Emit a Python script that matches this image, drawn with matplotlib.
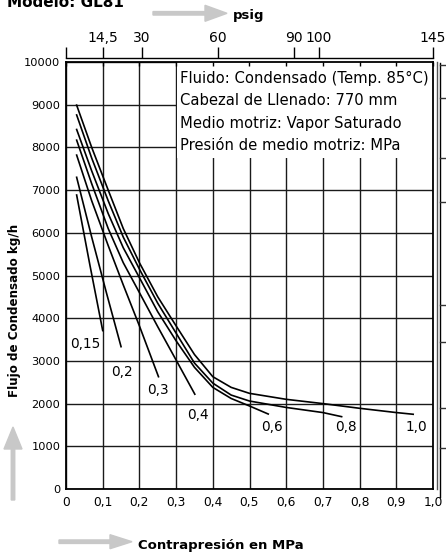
import matplotlib
matplotlib.use('Agg')
import matplotlib.pyplot as plt
from matplotlib import font_manager
from matplotlib.patches import Rectangle, FancyArrow
from matplotlib.lines import Line2D
from matplotlib.transforms import IdentityTransform

# pick a narrow face for the numbers if one is installed
installed = {f.name for f in font_manager.fontManager.ttflist}
narrow = 'DejaVu Sans'
num_size = 8.8
for name, size in [('DejaVu Sans Condensed', 9.5), ('Liberation Sans Narrow', 10.5)]:
    if name in installed:
        narrow = name
        num_size = size
        break

# curves: back pressure (MPa) vs condensate flow (kg/h), one per motive pressure
curve_names = ['0,15', '0,2', '0,3', '0,4', '0,6', '0,8', '1,0']
back_015 = [0.029, 0.065, 0.100]
flow_015 = [6885, 5250, 3710]
back_02 = [0.029, 0.07, 0.11, 0.150]
flow_02 = [7300, 5900, 4600, 3333]
back_03 = [0.029, 0.07, 0.115, 0.156, 0.2, 0.252]
flow_03 = [7820, 6750, 5700, 4780, 3820, 2630]
back_04 = [0.029, 0.07, 0.115, 0.156, 0.2, 0.25, 0.3, 0.351]
flow_04 = [8170, 7150, 6100, 5300, 4600, 3800, 3020, 2220]
back_06 = [0.029, 0.07, 0.115, 0.156, 0.2, 0.25, 0.3, 0.35, 0.4, 0.45, 0.5, 0.551]
flow_06 = [8420, 7450, 6450, 5650, 4950, 4150, 3470, 2850, 2380, 2120, 1944, 1756]
back_08 = [0.029, 0.07, 0.115, 0.156, 0.2, 0.25, 0.3, 0.35, 0.4, 0.45, 0.5, 0.6, 0.7, 0.751]
flow_08 = [8760, 7750, 6750, 5900, 5150, 4350, 3650, 2950, 2480, 2200, 2060, 1910, 1790, 1694]
back_10 = [0.029, 0.07, 0.115, 0.156, 0.2, 0.25, 0.3, 0.35, 0.4, 0.45, 0.5, 0.6, 0.7, 0.8, 0.9, 0.946]
flow_10 = [8990, 8000, 7000, 6100, 5300, 4500, 3820, 3150, 2630, 2380, 2240, 2100, 2000, 1890, 1790, 1750]

curves = [(back_015, flow_015), (back_02, flow_02), (back_03, flow_03), (back_04, flow_04),
          (back_06, flow_06), (back_08, flow_08), (back_10, flow_10)]

label_x = [0.052, 0.153, 0.25, 0.359, 0.56, 0.762, 0.955]
label_y = [3400, 2750, 2320, 1733, 1452, 1452, 1452]

x_ticks = [0, 0.1, 0.2, 0.3, 0.4, 0.5, 0.6, 0.7, 0.8, 0.9, 1.0]
x_tick_labels = ['0', '0,1', '0,2', '0,3', '0,4', '0,5', '0,6', '0,7', '0,8', '0,9', '1,0']
y_ticks = [0, 1000, 2000, 3000, 4000, 5000, 6000, 7000, 8000, 9000, 10000]
psig_ticks = [0, 14.5, 30, 60, 90, 100, 145]
psig_labels = ['', '14,5', '30', '60', '90', '100', '145']

info_lines = ['Fluido: Condensado (Temp. 85°C)',
              'Cabezal de Llenado: 770 mm',
              'Medio motriz: Vapor Saturado',
              'Presión de medio motriz: MPa']

# ticks of the next panel that is cut off at the right edge (pixels from top)
neighbour_ticks = [65, 98, 158, 202, 305, 342, 408, 448]

W, H = 446, 556
fig = plt.figure(figsize=(W / 100, H / 100), dpi=100)
ax = fig.add_axes([66 / W, 1 - 489 / H, 367 / W, 427 / H])
ax.set_xlim(0, 1.0)
ax.set_ylim(0, 10000)

ax.set_axisbelow(True)
ax.grid(True, color='#1a1a1a', linewidth=1.0)
ax.set_xticks(x_ticks)
ax.set_xticklabels(x_tick_labels, family=narrow, fontsize=num_size)
ax.set_yticks(y_ticks)
ax.set_yticklabels([str(v) for v in y_ticks], family=narrow, fontsize=num_size - 0.6)
ax.tick_params(axis='x', length=0, pad=5)
ax.tick_params(axis='y', length=0, pad=4)
for sp in ax.spines.values():
    sp.set_linewidth(1.3)

# white panel behind the info text
ax.add_patch(Rectangle((0.3015, 7750), 0.7, 2250, facecolor='white', edgecolor='none', zorder=1))
for i, line in enumerate(info_lines):
    ax.text(0.311, 0.9625 - i * 0.0527, line, transform=ax.transAxes, fontsize=10.6,
            va='center', ha='left', zorder=3)

# small inward ticks on the top frame
top_in = ax.secondary_xaxis('top')
top_in.set_xticks(x_ticks)
top_in.tick_params(direction='in', length=3, width=1, labeltop=False)
top_in.spines['top'].set_visible(False)
top_in.set_zorder(3)

# psig scale above
psig = ax.secondary_xaxis('top', functions=(lambda m: m * 145.0, lambda p: p / 145.0))
psig.set_xticks(psig_ticks)
psig.set_xticklabels(psig_labels, family=narrow, fontsize=num_size + 0.6)
psig.spines['top'].set_position(('outward', 3))
psig.spines['top'].set_linewidth(1.0)
psig.tick_params(direction='out', length=8, width=1, pad=1)

for (bx, fy) in curves:
    ax.plot(bx, fy, color='black', linewidth=1.2, zorder=4)
for name, lx, ly in zip(curve_names, label_x, label_y):
    ax.text(lx, ly, name, family=narrow, fontsize=num_size + 1.0, ha='center', va='center', zorder=4)

# titles and arrows
fig.text(7 / W, 1 - 7.3 / H, 'Modelo: GL81', fontsize=11, fontweight='bold', va='baseline', ha='left')
fig.text(249 / W, 1 - 16 / H, 'psig', fontsize=9.5, fontweight='bold', va='center', ha='center')
fig.text(221 / W, 1 - 545 / H, 'Contrapresión en MPa', fontsize=9.5, fontweight='bold',
         va='center', ha='center')
fig.text(15 / W, 1 - 310 / H, 'Flujo de Condensado kg/h', fontsize=8.6, fontweight='bold',
         va='center', ha='center', rotation=90, family=narrow)

grey = '#c8c8c8'
arrows = [
    (153, H - 13.3, 74, 0, 16),
    (59, H - 541.7, 73, 0, 14),
    (13, H - 500, 0, 73, 18),
]
for x0, y0, dx, dy, hw in arrows:
    a = FancyArrow(x0, y0, dx, dy, width=3.5, head_width=hw, head_length=22,
                   length_includes_head=True, color=grey, transform=IdentityTransform())
    fig.add_artist(a)

# fragment of the neighbouring chart
fig.add_artist(Line2D([436.8, 436.8], [H - 62, H - 489], color='#555555', linewidth=1.0,
                      transform=IdentityTransform()))
fig.add_artist(Line2D([439.5, 439.5], [H - 63, H - 497], color='black', linewidth=1.0,
                      transform=IdentityTransform()))
for ty in neighbour_ticks:
    fig.add_artist(Line2D([439.5, 446], [H - ty, H - ty], color='#333333', linewidth=1.0,
                          transform=IdentityTransform()))

fig.savefig('out.png', dpi=100)
